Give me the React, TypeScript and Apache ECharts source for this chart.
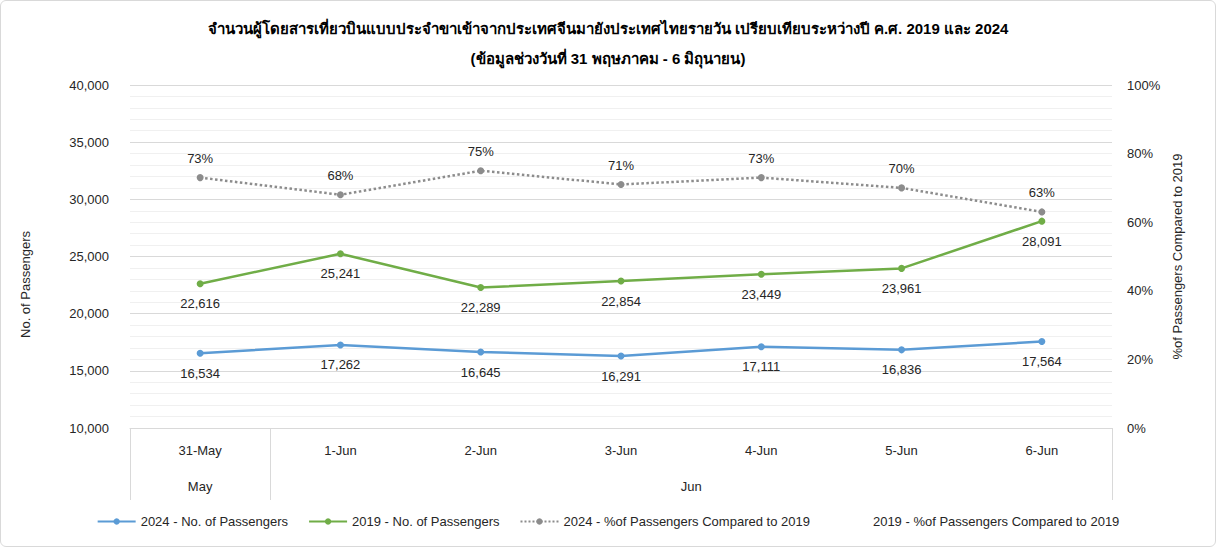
import React, { useEffect, useRef } from "react";
import * as echarts from "echarts";

const days = ["31-May", "1-Jun", "2-Jun", "3-Jun", "4-Jun", "5-Jun", "6-Jun"];
const passengers2024 = [16534, 17262, 16645, 16291, 17111, 16836, 17564];
const passengers2019 = [22616, 25241, 22289, 22854, 23449, 23961, 28091];
const pct2024vs2019 = [73, 68, 75, 71, 73, 70, 63];
const monthGroups = [
  { label: "May", center: 0.5 },
  { label: "Jun", center: 4 },
];
const monthBoundaries = [0, 1, 7];

const titleLine1 =
  "จำนวนผู้โดยสารเที่ยวบินแบบประจำขาเข้าจากประเทศจีนมายังประเทศไทยรายวัน เปรียบเทียบระหว่างปี ค.ศ. 2019 และ 2024";
const titleLine2 = "(ข้อมูลช่วงวันที่ 31 พฤษภาคม - 6 มิถุนายน)";

const FONT = 'Tahoma, "Liberation Sans", "Noto Sans", "DejaVu Sans", sans-serif';
const TEXT = "#262626";
const fmt = (v: number) => v.toLocaleString("en-US");

export default function App() {
  const ref = useRef<HTMLDivElement>(null);

  useEffect(() => {
    if (!ref.current) return;
    const chart = echarts.init(ref.current, undefined, { renderer: "svg" });
    chart.setOption({
      animation: false,
      textStyle: { fontFamily: FONT, color: TEXT },
      title: {
        text: titleLine1 + "\n" + titleLine2,
        left: "center",
        top: 8,
        textStyle: {
          fontFamily: FONT,
          fontSize: 15,
          fontWeight: "bold",
          color: "#000",
          lineHeight: 30,
        },
      },
      legend: {
        bottom: 14,
        left: "center",
        itemWidth: 38,
        itemHeight: 8,
        itemGap: 20,
        textStyle: { fontFamily: FONT, fontSize: 13, color: TEXT },
        data: [
          "2024 - No. of Passengers",
          "2019 - No. of Passengers",
          "2024 - %of Passengers Compared to 2019",
          "2019 - %of Passengers Compared to 2019",
        ],
      },
      grid: { left: 130, right: 104, top: 85, bottom: 119 },
      xAxis: [
        {
          type: "category",
          data: days,
          boundaryGap: true,
          axisLine: { show: true, lineStyle: { color: "#d9d9d9" } },
          axisTick: { show: false },
          axisLabel: { margin: 16, fontSize: 13, color: TEXT, fontFamily: FONT },
          splitLine: { show: false },
        },
        {
          type: "value",
          position: "bottom",
          min: 0,
          max: 7,
          axisLine: { show: false },
          axisTick: {
            show: true,
            customValues: monthBoundaries,
            length: 72,
            lineStyle: { color: "#d9d9d9" },
          },
          axisLabel: {
            customValues: monthGroups.map((g) => g.center),
            formatter: (v: number) => {
              const g = monthGroups.find((m) => m.center === v);
              return g ? g.label : "";
            },
            margin: 52,
            fontSize: 13,
            color: TEXT,
            fontFamily: FONT,
          },
          splitLine: { show: false },
        },
      ],
      yAxis: [
        {
          type: "value",
          min: 10000,
          max: 40000,
          interval: 5000,
          name: "No. of Passengers",
          nameLocation: "middle",
          nameRotate: 90,
          nameGap: 98,
          nameTextStyle: {
            fontSize: 13,
            color: TEXT,
            fontFamily: FONT,
            padding: [0, 56, 0, 0],
          },
          axisLine: { show: false },
          axisTick: { show: false },
          axisLabel: { formatter: fmt, margin: 21, fontSize: 13, color: TEXT, fontFamily: FONT },
          splitLine: { show: true, lineStyle: { color: "#d9d9d9" } },
          minorTick: { show: false, splitNumber: 5 },
          minorSplitLine: { show: true, lineStyle: { color: "#f0f0f0" } },
        },
        {
          type: "value",
          min: 0,
          max: 100,
          interval: 20,
          position: "right",
          name: "%of Passengers Compared to 2019",
          nameLocation: "middle",
          nameRotate: 90,
          nameGap: 58,
          nameTextStyle: { fontSize: 13, color: TEXT, fontFamily: FONT },
          axisLine: { show: false },
          axisTick: { show: false },
          axisLabel: { formatter: "{value}%", margin: 15, fontSize: 13, color: TEXT, fontFamily: FONT },
          splitLine: { show: false },
        },
      ],
      series: [
        {
          name: "2024 - No. of Passengers",
          type: "line",
          data: passengers2024,
          yAxisIndex: 0,
          symbol: "circle",
          symbolSize: 7,
          color: "#5b9bd5",
          lineStyle: { width: 2.5, color: "#5b9bd5" },
          label: {
            show: true,
            position: "bottom",
            distance: 10,
            formatter: (p: any) => fmt(p.value),
            fontSize: 13,
            color: TEXT,
            fontFamily: FONT,
          },
        },
        {
          name: "2019 - No. of Passengers",
          type: "line",
          data: passengers2019,
          yAxisIndex: 0,
          symbol: "circle",
          symbolSize: 7,
          color: "#70ad47",
          lineStyle: { width: 2.5, color: "#70ad47" },
          label: {
            show: true,
            position: "bottom",
            distance: 10,
            formatter: (p: any) => fmt(p.value),
            fontSize: 13,
            color: TEXT,
            fontFamily: FONT,
          },
        },
        {
          name: "2024 - %of Passengers Compared to 2019",
          type: "line",
          data: pct2024vs2019,
          yAxisIndex: 1,
          symbol: "circle",
          symbolSize: 7,
          color: "#8c8c8c",
          lineStyle: { width: 2.5, color: "#8c8c8c", type: "dotted" },
          label: {
            show: true,
            position: "top",
            distance: 9,
            formatter: "{c}%",
            fontSize: 13,
            color: TEXT,
            fontFamily: FONT,
          },
        },
        {
          name: "2019 - %of Passengers Compared to 2019",
          type: "line",
          data: [],
          yAxisIndex: 1,
          symbol: "none",
          color: "rgba(0,0,0,0)",
          lineStyle: { width: 0, color: "rgba(0,0,0,0)" },
        },
      ],
    });
    return () => chart.dispose();
  }, []);

  return (
    <div
      style={{
        position: "fixed",
        left: 0,
        top: 0,
        width: 1216,
        height: 547,
        boxSizing: "border-box",
        border: "1px solid #d9d9d9",
        borderRadius: 6,
        background: "#fff",
        overflow: "hidden",
      }}
    >
      <div ref={ref} style={{ position: "absolute", left: -1, top: -1, width: 1216, height: 547 }} />
    </div>
  );
}
